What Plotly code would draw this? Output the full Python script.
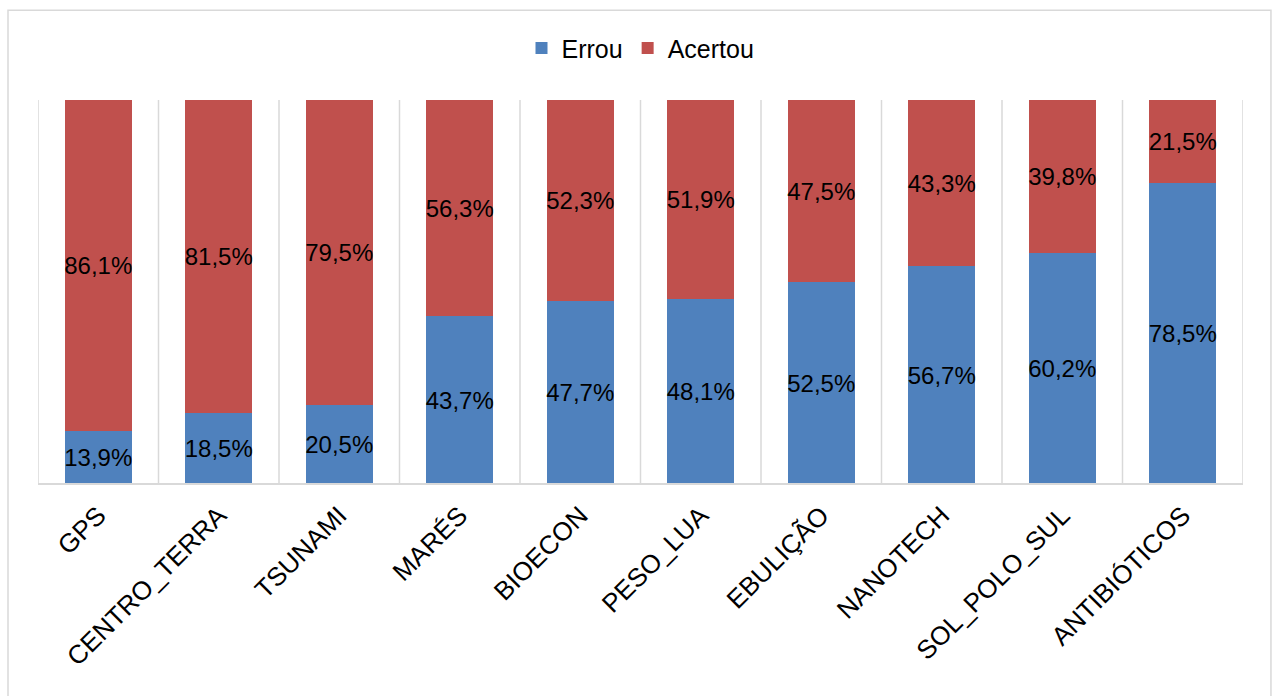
import plotly.graph_objects as go

categories = ["GPS", "CENTRO_TERRA", "TSUNAMI", "MARÉS", "BIOECON", "PESO_LUA",
              "EBULIÇÃO", "NANOTECH", "SOL_POLO_SUL", "ANTIBIÓTICOS"]
errou = [13.9, 18.5, 20.5, 43.7, 47.7, 48.1, 52.5, 56.7, 60.2, 78.5]
acertou = [86.1, 81.5, 79.5, 56.3, 52.3, 51.9, 47.5, 43.3, 39.8, 21.5]

FONT = "Liberation Sans, Arial, sans-serif"
BLUE = "#4F81BD"
RED = "#C0504D"
GRID = "#D9D9D9"

fig = go.Figure()
fig.add_trace(go.Bar(
    name="Errou", x=categories, y=errou, marker_color=BLUE,
    marker_line_width=0, texttemplate="%{y:.1f}%", textposition="inside",
    insidetextanchor="middle", textangle=0, constraintext="none",
    textfont=dict(family=FONT, size=24, color="black"),
))
fig.add_trace(go.Bar(
    name="Acertou", x=categories, y=acertou, marker_color=RED,
    marker_line_width=0, texttemplate="%{y:.1f}%", textposition="inside",
    insidetextanchor="middle", textangle=0, constraintext="none",
    textfont=dict(family=FONT, size=24, color="black"),
))

shapes = []
# vertical gridlines at category boundaries
for i in range(len(categories) + 1):
    shapes.append(dict(type="line", xref="x", yref="paper",
                       x0=i - 0.5, x1=i - 0.5, y0=0, y1=1,
                       line=dict(color=GRID, width=1.5), layer="below"))
# bottom axis line
shapes.append(dict(type="line", xref="paper", yref="paper", x0=0, x1=1, y0=0, y1=0,
                   line=dict(color=GRID, width=2), layer="above"))
# outer chart border
shapes.append(dict(type="rect", xref="paper", yref="paper",
                   x0=-0.0249, x1=1.0232, y0=-0.60, y1=1.234,
                   line=dict(color=GRID, width=1.5), layer="below"))

fig.update_layout(
    width=1273, height=696,
    margin=dict(l=38, r=30, t=100, b=212),
    paper_bgcolor="white", plot_bgcolor="white",
    barmode="stack", bargap=0.444,
    separators=",.",
    font=dict(family=FONT, color="black"),
    showlegend=True,
    legend=dict(orientation="h", x=0.5, xanchor="center", y=1.135, yanchor="middle",
                font=dict(family=FONT, size=25, color="black"),
                traceorder="normal", itemwidth=30),
    xaxis=dict(tickangle=-45, tickfont=dict(family=FONT, size=26, color="black"),
               showgrid=False, showline=False, ticks="", ticklabelstandoff=10,
               range=[-0.5, len(categories) - 0.5]),
    yaxis=dict(range=[0, 100], visible=False, showgrid=False),
    shapes=shapes,
)

fig.write_html("out.html")
